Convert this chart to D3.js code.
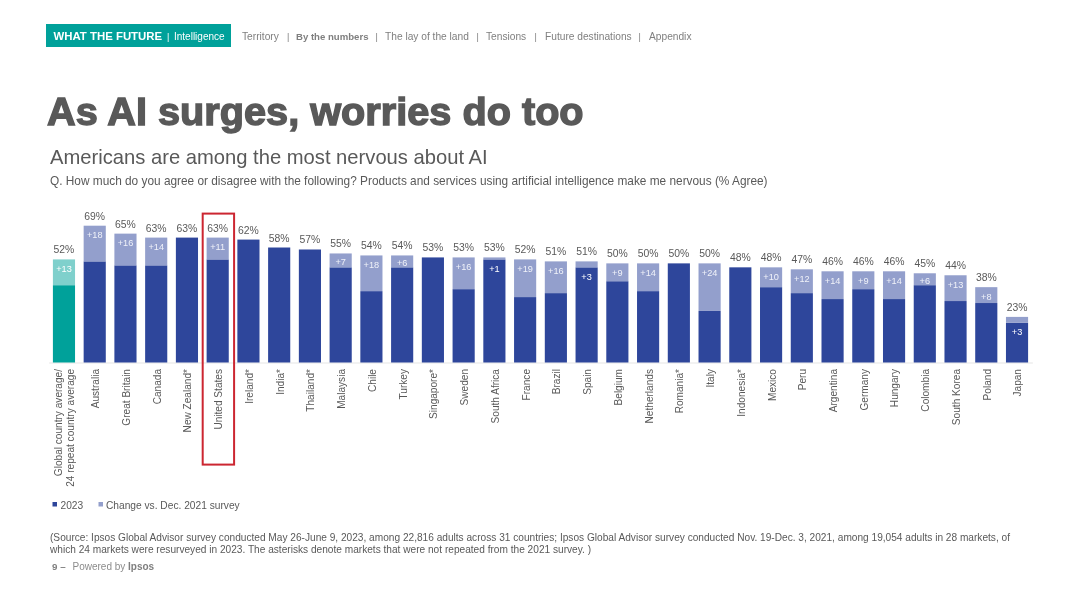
<!DOCTYPE html>
<html>
<head>
<meta charset="utf-8">
<script src="https://cdn.jsdelivr.net/npm/d3@7"></script>
<style>
  html, body { margin: 0; padding: 0; background: #fff; }
  svg { display: block; font-family: "Liberation Sans", Arial, sans-serif; filter: blur(0.35px); }
  text { fill: #595959; }
</style>
</head>
<body>
<svg id="chart" width="1080" height="607"></svg>
<script>
// Chart data
const categories = ['Global', 'Australia', 'Great Britain', 'Canada', 'New Zealand*', 'United States',
  'Ireland*', 'India*', 'Thailand*', 'Malaysia', 'Chile', 'Turkey', 'Singapore*', 'Sweden',
  'South Africa', 'France', 'Brazil', 'Spain', 'Belgium', 'Netherlands', 'Romania*', 'Italy',
  'Indonesia*', 'Mexico', 'Peru', 'Argentina', 'Germany', 'Hungary', 'Colombia', 'South Korea',
  'Poland', 'Japan'];
const totals = [52, 69, 65, 63, 63, 63, 62, 58, 57, 55, 54, 54, 53, 53, 53, 52, 51, 51, 50, 50, 50, 50,
  48, 48, 47, 46, 46, 46, 45, 44, 38, 23];
// change vs. 2021, null where the market was not in the 2021 survey
const changes = [13, 18, 16, 14, null, 11, null, null, null, 7, 18, 6, null, 16, 1, 19, 16, 3, 9, 14, null, 24,
  null, 10, 12, 14, 9, 14, 6, 13, 8, 3];
const globalLabel = ['Global country average/', '24 repeat country average'];
const navItems = ['Territory', 'By the numbers', 'The lay of the land', 'Tensions', 'Future destinations', 'Appendix'];

const svg = d3.select('#chart');

const addText = (x, y, str, size, opts = {}) => svg.append('text')
  .attr('x', x).attr('y', y)
  .attr('font-size', size)
  .attr('font-weight', opts.bold ? 'bold' : null)
  .style('fill', opts.fill || null)
  .text(str);

// Header strip
svg.append('rect').attr('x', 46).attr('y', 24).attr('width', 185).attr('height', 23).attr('fill', '#00a19a');
addText(53.5, 39.5, 'WHAT THE FUTURE', 11.4, { bold: true, fill: '#fff' });
addText(167, 39.5, '|', 9, { fill: '#fff' });
addText(174, 39.5, 'Intelligence', 10, { fill: '#fff' });

const navX = [242, 296, 385, 486, 545, 649];
const navSepX = [287, 375.5, 476.5, 534.5, 638.5];
navItems.forEach((item, i) => {
  addText(navX[i], 39.5, item, i === 1 ? 9.6 : 10.2, { bold: i === 1, fill: '#7f7f7f' });
});
navSepX.forEach(sx => addText(sx, 39.5, '|', 9, { fill: '#7f7f7f' }));

// Titles
addText(47, 125, 'As AI surges, worries do too', 39.7, { bold: true })
  .attr('stroke', '#595959').attr('stroke-width', 1.4);
addText(50, 163.5, 'Americans are among the most nervous about AI', 20.2);
addText(50, 185, 'Q. How much do you agree or disagree with the following? Products and services using artificial intelligence make me nervous (% Agree)', 11.85);

// Scales
const x = d3.scaleBand()
  .domain(categories)
  .range([48.6, 1032.4])
  .paddingInner(0.28)
  .paddingOuter(0.14);
const y = d3.scaleLinear().domain([0, 69]).range([362.5, 225.7]);

// Baseline and category labels
const xAxis = svg.append('g')
  .attr('transform', `translate(0,${y(0)})`)
  .call(d3.axisBottom(x).tickSize(0).tickPadding(0));
xAxis.select('.domain').attr('stroke', '#e6e6e6').attr('stroke-width', 1.2);
xAxis.selectAll('.tick text')
  .attr('font-size', 10.1)
  .attr('font-family', '"Liberation Sans", Arial, sans-serif')
  .attr('text-anchor', 'end')
  .attr('dy', '0.34em')
  .attr('transform', 'translate(1,6.5) rotate(-90)')
  .attr('y', 0).attr('x', 0)
  .style('fill', '#595959')
  .each(function (d) {
    if (d !== 'Global') return;
    const t = d3.select(this).text(null).attr('dy', null);
    globalLabel.forEach((line, i) => {
      t.append('tspan').attr('x', 0).attr('y', i === 0 ? -2.5 : 9.5).text(line);
    });
  });

// Bars
const rows = categories.map((c, i) => ({ c, total: totals[i], change: changes[i] || 0, isGlobal: i === 0 }));

svg.append('g').selectAll('rect')
  .data(rows)
  .join('rect')
  .attr('x', d => x(d.c))
  .attr('width', x.bandwidth())
  .attr('y', d => y(d.total - d.change))
  .attr('height', d => y(0) - y(d.total - d.change))
  .attr('fill', d => d.isGlobal ? '#00a19a' : '#2e469b');

svg.append('g').selectAll('rect')
  .data(rows.filter(d => d.change))
  .join('rect')
  .attr('x', d => x(d.c))
  .attr('width', x.bandwidth())
  .attr('y', d => y(d.total))
  .attr('height', d => y(d.total - d.change) - y(d.total))
  .attr('fill', d => d.isGlobal ? '#7fd0cc' : '#939fcc');

// Value labels
const center = d => x(d.c) + x.bandwidth() / 2;

svg.append('g').selectAll('text')
  .data(rows)
  .join('text')
  .attr('x', center)
  .attr('y', d => y(d.total) - 6)
  .attr('text-anchor', 'middle')
  .attr('font-size', 10.4)
  .text(d => d.total + '%');

svg.append('g').selectAll('text')
  .data(rows.filter(d => d.change))
  .join('text')
  .attr('x', center)
  .attr('y', d => {
    // thin segments push the label down into the dark part
    if (d.change <= 3) return y(d.total - d.change) + 12.5;
    return y(d.total) + Math.min(9.5, (y(d.total - d.change) - y(d.total)) / 2 + 2) + 3;
  })
  .attr('text-anchor', 'middle')
  .attr('font-size', 9.2)
  .style('fill', d => d.isGlobal || d.change <= 3 ? '#fff' : '#f0f2f9')
  .text(d => '+' + d.change);

// Highlight around the United States
const usX = x('United States') + x.bandwidth() / 2;
svg.append('rect')
  .attr('x', usX - 15).attr('y', y(63) - 24)
  .attr('width', 31.4).attr('height', 251)
  .attr('fill', 'none')
  .attr('stroke', '#cc2631')
  .attr('stroke-width', 2);

// Legend
svg.append('rect').attr('x', 52.5).attr('y', 502).attr('width', 4.5).attr('height', 4.5).attr('fill', '#2e469b');
addText(60.5, 508.5, '2023', 10.2);
svg.append('rect').attr('x', 98.5).attr('y', 502).attr('width', 4.5).attr('height', 4.5).attr('fill', '#939fcc');
addText(106, 508.5, 'Change vs. Dec. 2021 survey', 10.2);

// Source and footer
addText(50, 540.5, '(Source: Ipsos Global Advisor survey conducted May 26-June 9, 2023, among 22,816 adults across 31 countries; Ipsos Global Advisor survey conducted Nov. 19-Dec. 3, 2021, among 19,054 adults in 28 markets, of', 10.14);
addText(50, 552.5, 'which 24 markets were resurveyed in 2023. The asterisks denote markets that were not repeated from the 2021 survey. )', 10.14);
addText(52, 570, '9 –', 9.8, { bold: true, fill: '#7f7f7f' });
addText(72.5, 570, 'Powered by', 10, { fill: '#8c8c8c' });
addText(128, 570, 'Ipsos', 10, { bold: true, fill: '#7f7f7f' });
</script>
</body>
</html>
